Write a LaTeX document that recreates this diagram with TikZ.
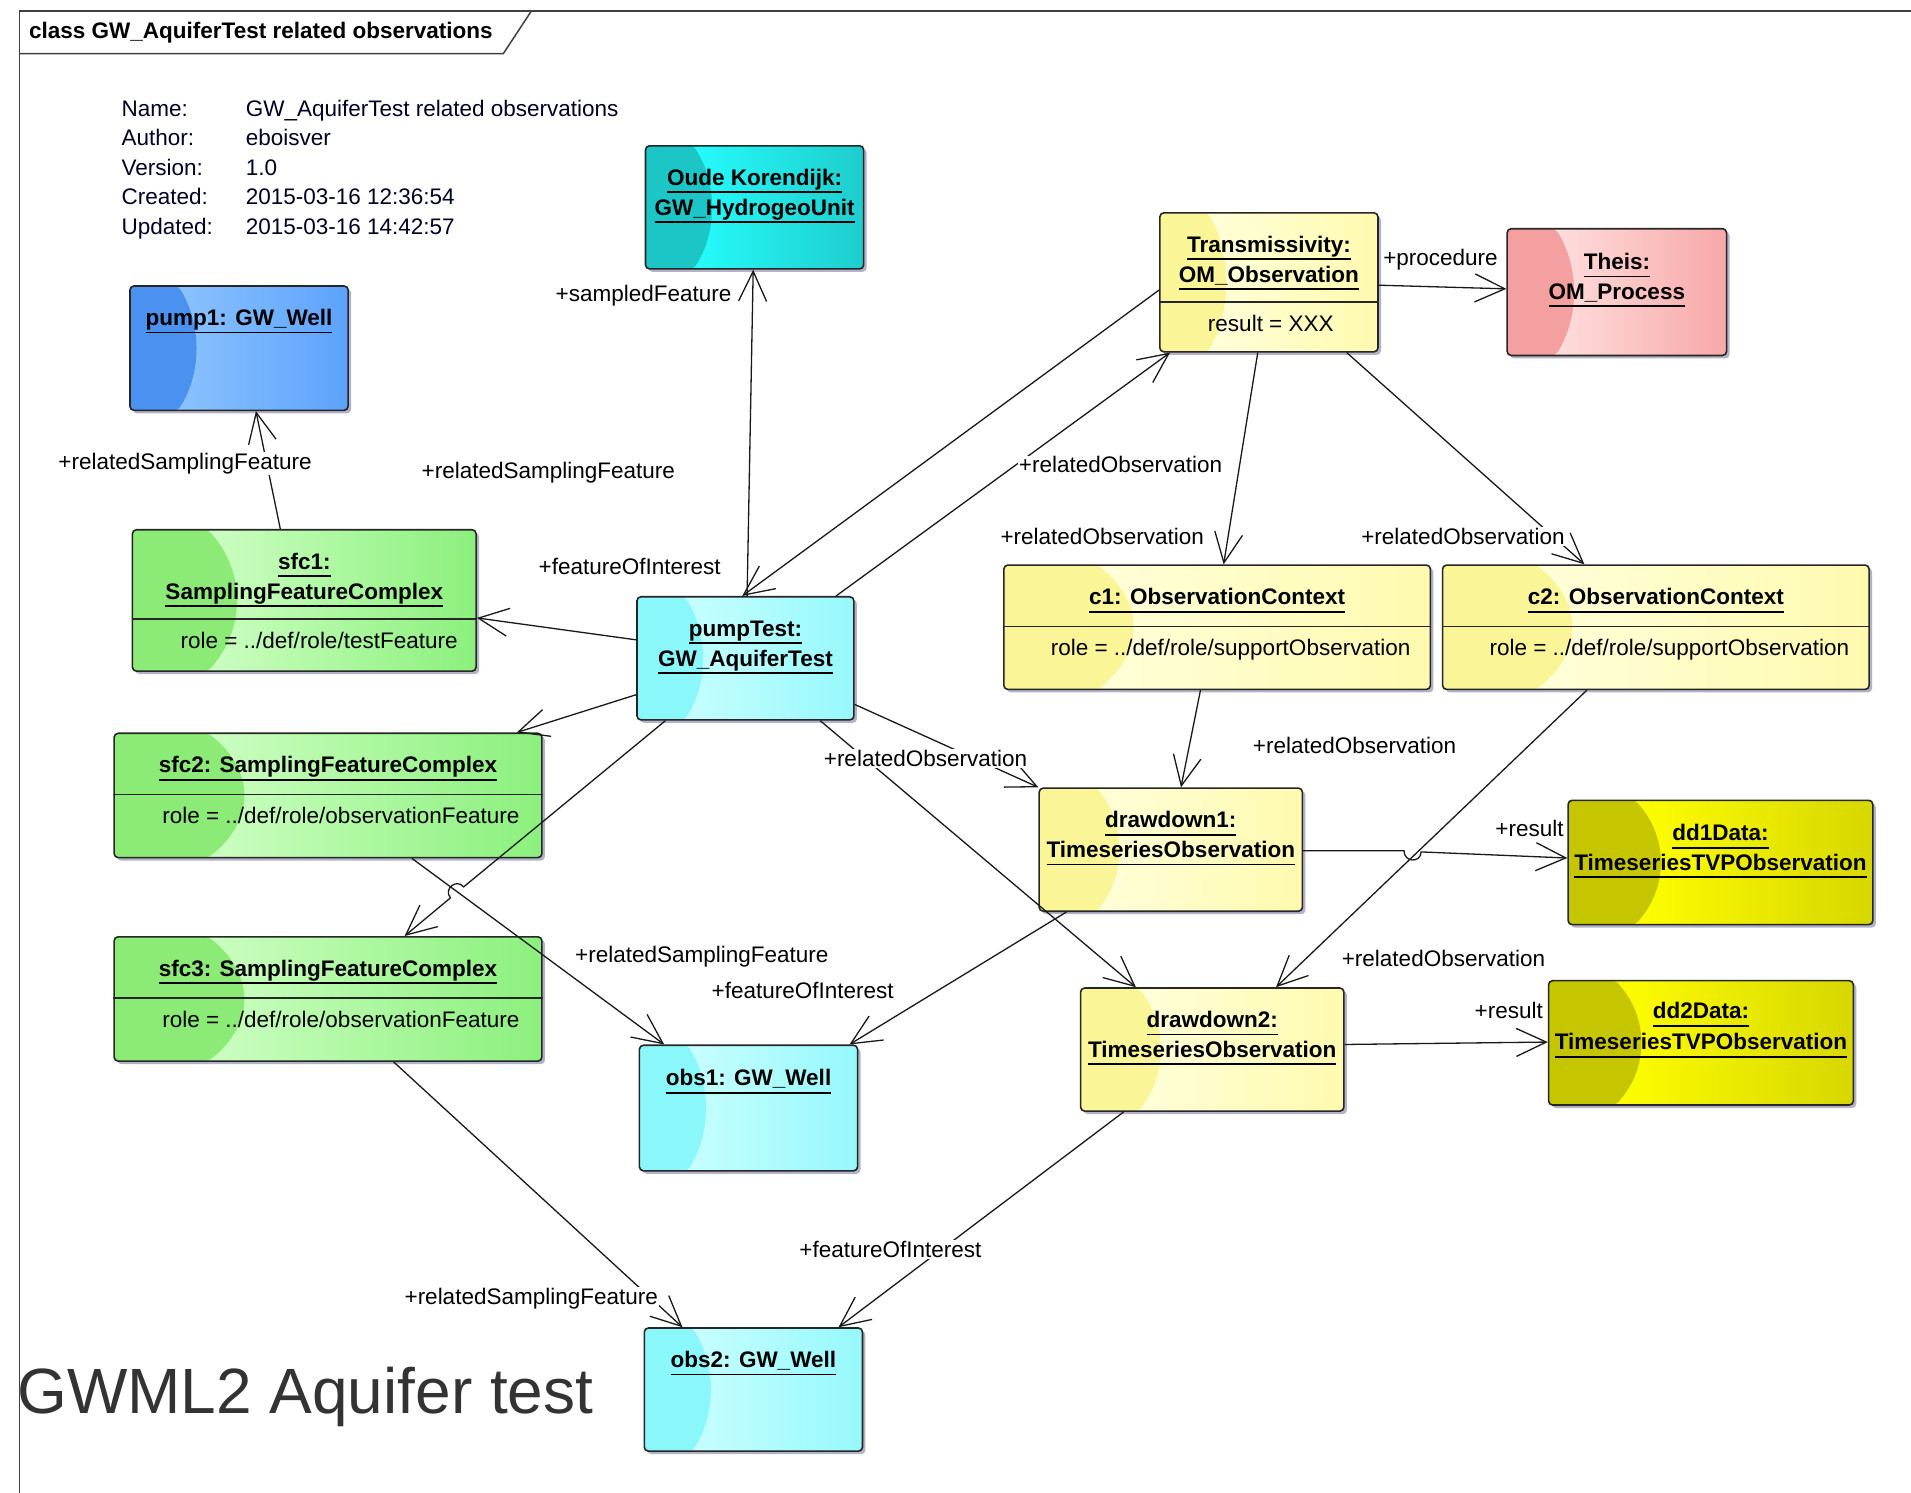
\documentclass[tikz,border=0pt]{standalone}
\usepackage{fontspec}
\setmainfont{Liberation Sans}
\usetikzlibrary{arrows.meta,shadows,calc}
\definecolor{cyL}{RGB}{138,248,250}
\definecolor{cyB}{RGB}{200,255,255}
\definecolor{cyR}{RGB}{150,248,252}
\definecolor{tlL}{RGB}{28,198,198}
\definecolor{tlB}{RGB}{38,252,252}
\definecolor{tlR}{RGB}{30,205,205}
\definecolor{blL}{RGB}{75,145,240}
\definecolor{blB}{RGB}{140,195,255}
\definecolor{blR}{RGB}{92,162,252}
\definecolor{ywL}{RGB}{250,245,150}
\definecolor{ywB}{RGB}{255,255,218}
\definecolor{ywR}{RGB}{255,250,175}
\definecolor{grL}{RGB}{140,234,118}
\definecolor{grB}{RGB}{205,255,195}
\definecolor{grR}{RGB}{140,240,125}
\definecolor{pkL}{RGB}{245,160,160}
\definecolor{pkB}{RGB}{255,222,222}
\definecolor{pkR}{RGB}{248,168,168}
\definecolor{olL}{RGB}{198,198,0}
\definecolor{olB}{RGB}{255,255,0}
\definecolor{olR}{RGB}{215,215,0}
\newcommand\ulx[1]{\setbox0\hbox{#1}\rlap{\rule[-8pt]{\wd0}{1.8pt}}\box0}
\newcommand\mkbox[6]{\node[#2, anchor=north west, minimum width={(#5-#3)*1.2188pt}, minimum height={(#6-#4)*1.2188pt}] (#1) at (#3,#4) {};}
\tikzset{
  eabox/.style n args={3}{draw=black!85, line width=1.6pt, rounded corners=4pt, inner sep=0pt, fill=#1,
    drop shadow={shadow xshift=3pt, shadow yshift=-3pt, opacity=0.3, fill=black!70!blue},
    path picture={
      \path (path picture bounding box.north west) coordinate (ppA) (path picture bounding box.south east) coordinate (ppB);
      \fill[left color=#2, right color=#3] let \p1=(ppA), \p2=(ppB) in ({\x1+0.2*(\x2-\x1)},\y1) rectangle (\x2,\y2);
      \fill[#1] let \p1=(ppA), \p2=(ppB) in (\x1,\y1) -- ({\x1+0.22*(\x2-\x1)},\y1) .. controls ({\x1+0.33*(\x2-\x1)},{\y1+0.3*(\y2-\y1)}) and ({\x1+0.33*(\x2-\x1)},{\y1+0.7*(\y2-\y1)}) .. ({\x1+0.22*(\x2-\x1)},\y2) -- (\x1,\y2) -- cycle;
    }},
  cybox/.style={eabox={cyL}{cyB}{cyR}},
  tealbox/.style={eabox={tlL}{tlB}{tlR}},
  bluebox/.style={eabox={blL}{blB}{blR}},
  yelbox/.style={eabox={ywL}{ywB}{ywR}},
  grnbox/.style={eabox={grL}{grB}{grR}},
  pinkbox/.style={eabox={pkL}{pkB}{pkR}},
  olbox/.style={eabox={olL}{olB}{olR}},
  ttl/.style={anchor=base, inner sep=0pt, font=\bfseries\fontsize{22.5}{27}\selectfont},
  attr/.style={anchor=base west, inner sep=0pt, font=\fontsize{22.5}{27}\selectfont},
  lbl/.style={anchor=base west, fill=white, inner sep=1pt, font=\fontsize{22.5}{27}\selectfont},
  info/.style={anchor=base west, inner sep=0pt, font=\fontsize{22.5}{27}\selectfont, text=black!85!blue},
  assoc/.style={draw=black!90, line width=1.3pt, -{Straight Barb[length=30pt,width=28pt]}},
  sepline/.style={draw=black!85, line width=1.6pt},
  frameline/.style={draw=black!75, line width=1.5pt},
}
\begin{document}
\begin{tikzpicture}[x=1.2188pt,y=-1.2188pt]
\useasboundingbox[fill=white] (0,0) rectangle (1568,1225);
% frame
\draw[frameline] (16,1225) -- (16,9) -- (1568,9);
\draw[frameline] (16,44) -- (413,44) -- (436,9);
\node[anchor=base west, inner sep=0pt, font=\bfseries\fontsize{22.5}{27}\selectfont] (hdr) at (23.8,31.5) {class GW\_AquiferTest related observations};
% info block
\node[info] (i1) at (99.6,95.7) {Name:};
\node[info] (i2) at (99.6,119.5) {Author:};
\node[info] (i3) at (99.6,143.6) {Version:};
\node[info] (i4) at (99.6,167.4) {Created:};
\node[info] (i5) at (99.6,192.8) {Updated:};
\node[info] (v1) at (201.5,95.7) {GW\_AquiferTest related observations};
\node[info] (v2) at (201.5,119.5) {eboisver};
\node[info] (v3) at (201.5,143.6) {1.0};
\node[info] (v4) at (201.5,167.4) {2015-03-16 12:36:54};
\node[info] (v5) at (201.5,192.8) {2015-03-16 14:42:57};
% big title
\node[anchor=base west, inner sep=0pt, font=\fontsize{64}{70}\selectfont, text=black!80] (gwml) at (14,1160) {GWML2 Aquifer test};
% boxes
\mkbox{oude}{tealbox}{529}{119}{708}{220}
\mkbox{pumpone}{bluebox}{106}{234}{285}{336}
\mkbox{trans}{yelbox}{951}{174}{1130}{288}
\mkbox{theis}{pinkbox}{1236}{187}{1416}{291}
\mkbox{sfcone}{grnbox}{108}{434}{390}{550}
\mkbox{pumpTest}{cybox}{522}{489}{700}{590}
\mkbox{cone}{yelbox}{823}{463}{1173}{565}
\mkbox{ctwo}{yelbox}{1183}{463}{1533}{565}
\mkbox{sfctwo}{grnbox}{93}{601}{444}{703}
\mkbox{ddone}{yelbox}{852}{646}{1068}{747}
\mkbox{ddonedata}{olbox}{1286}{656}{1536}{758}
\mkbox{sfcthree}{grnbox}{93}{768}{444}{870}
\mkbox{ddtwo}{yelbox}{886}{810}{1102}{911}
\mkbox{ddtwodata}{olbox}{1270}{804}{1520}{906}
\mkbox{obsone}{cybox}{524}{857}{703}{960}
\mkbox{obstwo}{cybox}{528}{1089}{707}{1190}
% titles
\node[ttl] (oude-a) at ($(oude.north)+(0,33)$) {\ulx{Oude Korendijk:}};
\node[ttl] (oude-b) at ($(oude.north)+(0,57.5)$) {\ulx{GW\_HydrogeoUnit}};
\node[ttl] (pumpone-a) at ($(pumpone.north)+(0,33)$) {\ulx{pump1: GW\_Well}};
\node[ttl] (trans-a) at ($(trans.north)+(0,33)$) {\ulx{Transmissivity:}};
\node[ttl] (trans-b) at ($(trans.north)+(0,57.5)$) {\ulx{OM\_Observation}};
\draw[sepline] ($(trans.north west)+(0,74)$) -- ($(trans.north east)+(0,74)$);
\node[attr] (trans-r) at ($(trans.north west)+(40,98)$) {result = XXX};
\node[ttl] (theis-a) at ($(theis.north)+(0,34)$) {\ulx{Theis:}};
\node[ttl] (theis-b) at ($(theis.north)+(0,58.5)$) {\ulx{OM\_Process}};
\node[ttl] (sfcone-a) at ($(sfcone.north)+(0,33)$) {\ulx{sfc1:}};
\node[ttl] (sfcone-b) at ($(sfcone.north)+(0,57.5)$) {\ulx{SamplingFeatureComplex}};
\draw[sepline] ($(sfcone.north west)+(0,74)$) -- ($(sfcone.north east)+(0,74)$);
\node[attr] (sfcone-r) at ($(sfcone.north west)+(40,98)$) {role = ../def/role/testFeature};
\node[ttl] (pumpTest-a) at ($(pumpTest.north)+(0,33)$) {\ulx{pumpTest:}};
\node[ttl] (pumpTest-b) at ($(pumpTest.north)+(0,57.5)$) {\ulx{GW\_AquiferTest}};
\node[ttl] (cone-a) at ($(cone.north)+(0,33)$) {\ulx{c1: ObservationContext}};
\draw[sepline] ($(cone.north west)+(0,51)$) -- ($(cone.north east)+(0,51)$);
\node[attr] (cone-r) at ($(cone.north west)+(39,75)$) {role = ../def/role/supportObservation};
\node[ttl] (ctwo-a) at ($(ctwo.north)+(0,33)$) {\ulx{c2: ObservationContext}};
\draw[sepline] ($(ctwo.north west)+(0,51)$) -- ($(ctwo.north east)+(0,51)$);
\node[attr] (ctwo-r) at ($(ctwo.north west)+(39,75)$) {role = ../def/role/supportObservation};
\node[ttl] (sfctwo-a) at ($(sfctwo.north)+(0,33)$) {\ulx{sfc2: SamplingFeatureComplex}};
\draw[sepline] ($(sfctwo.north west)+(0,51)$) -- ($(sfctwo.north east)+(0,51)$);
\node[attr] (sfctwo-r) at ($(sfctwo.north west)+(40,75)$) {role = ../def/role/observationFeature};
\node[ttl] (ddone-a) at ($(ddone.north)+(0,33)$) {\ulx{drawdown1:}};
\node[ttl] (ddone-b) at ($(ddone.north)+(0,57.5)$) {\ulx{TimeseriesObservation}};
\node[ttl] (ddonedata-a) at ($(ddonedata.north)+(0,34)$) {\ulx{dd1Data:}};
\node[ttl] (ddonedata-b) at ($(ddonedata.north)+(0,58)$) {\ulx{TimeseriesTVPObservation}};
\node[ttl] (sfcthree-a) at ($(sfcthree.north)+(0,33)$) {\ulx{sfc3: SamplingFeatureComplex}};
\draw[sepline] ($(sfcthree.north west)+(0,51)$) -- ($(sfcthree.north east)+(0,51)$);
\node[attr] (sfcthree-r) at ($(sfcthree.north west)+(40,75)$) {role = ../def/role/observationFeature};
\node[ttl] (ddtwo-a) at ($(ddtwo.north)+(0,33)$) {\ulx{drawdown2:}};
\node[ttl] (ddtwo-b) at ($(ddtwo.north)+(0,57.5)$) {\ulx{TimeseriesObservation}};
\node[ttl] (ddtwodata-a) at ($(ddtwodata.north)+(0,32)$) {\ulx{dd2Data:}};
\node[ttl] (ddtwodata-b) at ($(ddtwodata.north)+(0,57.5)$) {\ulx{TimeseriesTVPObservation}};
\node[ttl] (obsone-a) at ($(obsone.north)+(0,34)$) {\ulx{obs1: GW\_Well}};
\node[ttl] (obstwo-a) at ($(obstwo.north)+(0,33)$) {\ulx{obs2: GW\_Well}};
% hop coordinates
\coordinate (hopa1) at (380.4,727.7);
\coordinate (hopc1) at (374.4,720.5);
\coordinate (hopc2) at (363.6,729.5);
\coordinate (hopa2) at (369.6,736.7);
\coordinate (hopb1) at (1152,698);
\coordinate (hopd1) at (1152,708);
\coordinate (hopd2) at (1166,708);
\coordinate (hopb2) at (1166,699);
% connectors
\draw[assoc] (230,0 |- sfcone.north) -- (210,0 |- pumpone.south);
\draw[assoc] (613,0 |- pumpTest.north) -- (618,0 |- oude.south);
\draw[assoc] (trans.west |- 0,238) -- (609,0 |- pumpTest.north);
\draw[assoc] (686,0 |- pumpTest.north) -- (960,0 |- trans.south);
\draw[assoc] (trans.east |- 0,234) -- (theis.west |- 0,237);
\draw[assoc] (1032,0 |- trans.south) -- (1004,0 |- cone.north);
\draw[assoc] (1105,0 |- trans.south) -- (1300,0 |- ctwo.north);
\draw[assoc] (pumpTest.west |- 0,525) -- (sfcone.east |- 0,507);
\draw[assoc] (pumpTest.west |- 0,570) -- (424,0 |- sfctwo.north);
\draw[assoc] (546,0 |- pumpTest.south) -- (hopa1) .. controls (hopc1) and (hopc2) .. (hopa2) -- (332,0 |- sfcthree.north);
\draw[assoc] (338,0 |- sfctwo.south) -- (545,0 |- obsone.north);
\draw[assoc] (875,0 |- ddone.south) -- (697,0 |- obsone.north);
\draw[assoc] (pumpTest.east |- 0,578) -- (ddone.north west);
\draw[assoc] (673,0 |- pumpTest.south) -- (932,0 |- ddtwo.north);
\draw[assoc] (985,0 |- cone.south) -- (969,0 |- ddone.north);
\draw[assoc] (1302,0 |- ctwo.south) -- (1047,0 |- ddtwo.north);
\draw[assoc] (ddone.east |- 0,698) -- (hopb1) .. controls (hopd1) and (hopd2) .. (hopb2) -- (ddonedata.west |- 0,704);
\draw[assoc] (ddtwo.east |- 0,857) -- (ddtwodata.west |- 0,855);
\draw[assoc] (323,0 |- sfcthree.south) -- (560,0 |- obstwo.north);
\draw[assoc] (922,0 |- ddtwo.south) -- (688,0 |- obstwo.north);
% role labels
\node[lbl] (l1) at (47,385) {+relatedSamplingFeature};
\node[lbl] (l2) at (455,247) {+sampledFeature};
\node[lbl] (l3) at (441,471) {+featureOfInterest};
\node[lbl] (l4) at (835,388) {+relatedObservation};
\node[lbl] (l5) at (1134,218) {+procedure};
\node[lbl] (l6) at (820,447) {+relatedObservation};
\node[lbl] (l7) at (1116,447) {+relatedObservation};
\node[lbl] (l8) at (345,393) {+relatedSamplingFeature};
\node[lbl] (l9) at (675,629) {+relatedObservation};
\node[lbl] (l10) at (1027,618) {+relatedObservation};
\node[lbl] (l11) at (1226,686) {+result};
\node[lbl] (l12) at (471,790) {+relatedSamplingFeature};
\node[lbl] (l13) at (583,819) {+featureOfInterest};
\node[lbl] (l14) at (1100,793) {+relatedObservation};
\node[lbl] (l15) at (1209,836) {+result};
\node[lbl] (l16) at (655,1032) {+featureOfInterest};
\node[lbl] (l17) at (331,1070) {+relatedSamplingFeature};
\end{tikzpicture}
\end{document}
